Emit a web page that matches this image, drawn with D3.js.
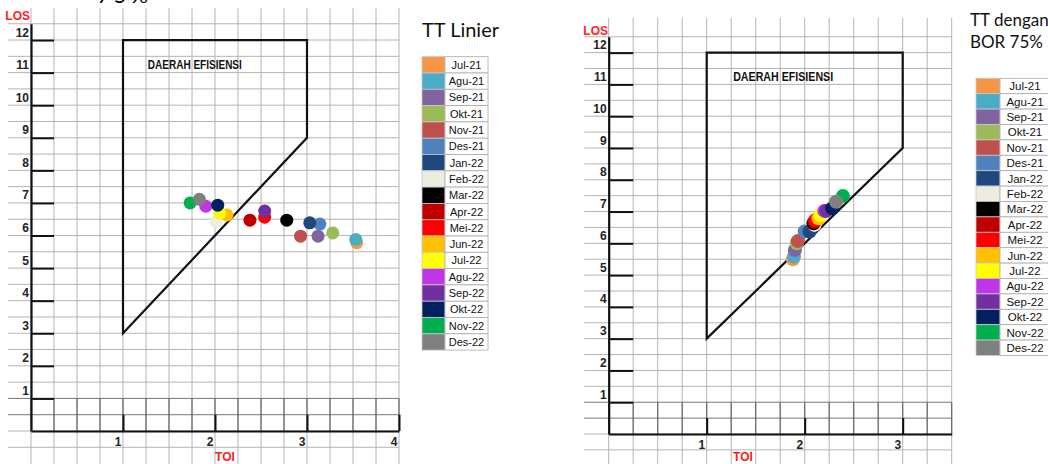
<!DOCTYPE html>
<html>
<head>
<meta charset="utf-8">
<script src="https://cdn.jsdelivr.net/npm/d3@7"></script>
<style>
  body { margin: 0; background: #fff; }
  svg { display: block; }
  .tick text { font-family: "Liberation Sans", Arial, sans-serif; font-weight: bold; font-size: 12px; fill: #222; }
</style>
</head>
<body>
<script>
// Grafik Barber Johnson - data per bulan
var months = ["Jul-21","Agu-21","Sep-21","Okt-21","Nov-21","Des-21","Jan-22","Feb-22","Mar-22",
              "Apr-22","Mei-22","Jun-22","Jul-22","Agu-22","Sep-22","Okt-22","Nov-22","Des-22"];
var monthColors = ["#F79646","#4BACC6","#8064A2","#9BBB59","#C0504D","#4F81BD","#1F497D","#EEECE1","#000000",
                   "#C00000","#FF0000","#FFC000","#FFFF00","#C035E8","#7030A0","#002060","#00B050","#808080"];

// TT Linier
var toiLinier = [3.54,3.53,3.12,3.28,2.93,3.14,3.03,2.01,2.78,2.38,2.54,2.13,2.05,1.90,2.54,2.03,1.73,1.83];
var losLinier = [5.78,5.88,5.98,6.08,5.98,6.35,6.39,6.42,6.47,6.47,6.56,6.63,6.68,6.90,6.75,6.93,7.00,7.11];

// TT dengan BOR 75%
var toiBor = [1.88,1.89,1.90,1.92,1.93,2.00,2.05,2.10,2.09,2.10,2.11,2.14,2.16,2.20,2.22,2.28,2.39,2.32];
var losBor = [5.50,5.58,5.79,6.00,6.07,6.37,6.37,6.58,6.63,6.68,6.73,6.79,6.89,7.02,7.02,7.10,7.49,7.31];

// daerah efisiensi
var areaToi = [1, 1, 3, 3];
var areaLos = [3, 12, 12, 9];

var losTicks = [1,2,3,4,5,6,7,8,9,10,11,12];

var width = 1048, height = 464;
var svg = d3.select("body").append("svg")
  .attr("width", width)
  .attr("height", height);

// sisa judul di atas (terpotong)
svg.append("text")
  .attr("x", 97).attr("y", 3)
  .style("font-family", "Lato, sans-serif")
  .style("font-size", "22px")
  .style("letter-spacing", "4px")
  .text("75%");

drawPanel({
  x0: 31, xUnit: 92, xMax: 4, y0: 431, yUnit: 32.58,
  gridTop: 12.98, toiTicks: [1,2,3,4],
  toi: toiLinier, los: losLinier, r: 6.5,
  effFont: 12, effLen: 94,
  losLabel: [30, 20], toiLabel: [225, 461]
});
drawPanel({
  x0: 608.7, xUnit: 98, xMax: 3.5, y0: 434, yUnit: 31.78,
  gridTop: 13.09, toiTicks: [1,2,3],
  toi: toiBor, los: losBor, r: 7,
  effFont: 12.5, effLen: 100,
  losLabel: [608, 35], toiLabel: [743, 461]
});

drawLegend({ title: ["TT Linier"], titleX: 422, titleY: 37, titleSize: 20,
             sx: 422, sw: 23, lw: 43, top: 56.7, rh: 16.3, font: 11 });
drawLegend({ title: ["TT dengan", "BOR 75%"], titleX: 970, titleY: 26, titleSize: 17,
             sx: 976, sw: 24, lw: 50, top: 78.3, rh: 15.4, font: 11.5 });

function drawPanel(c){
  var x = d3.scaleLinear().domain([0, c.xMax]).range([c.x0, c.x0 + c.xMax * c.xUnit]);
  var y = d3.scaleLinear().domain([0, 12.5]).range([c.y0, c.y0 - 12.5 * c.yUnit]);
  var g = svg.append("g");

  // grid
  var vx = d3.range(0, c.xMax + 0.001, 0.25);
  var hy = d3.range(-0.5, 12.51, 0.5);
  g.selectAll(".vgrid").data(vx).enter().append("line")
    .attr("x1", function(d){ return x(d); }).attr("x2", function(d){ return x(d); })
    .attr("y1", y(c.gridTop)).attr("y2", height)
    .style("stroke", "#b4b4b4").style("stroke-width", 1);
  g.selectAll(".hgrid").data(hy).enter().append("line")
    .attr("x1", x(-0.25)).attr("x2", x(c.xMax))
    .attr("y1", function(d){ return y(d); }).attr("y2", function(d){ return y(d); })
    .style("stroke", function(d){ return (d == 0.5 || d == 1) ? "#777" : "#b4b4b4"; })
    .style("stroke-width", 1);
  // baris bawah lebih gelap
  g.selectAll(".vdark").data(vx).enter().append("line")
    .attr("x1", function(d){ return x(d); }).attr("x2", function(d){ return x(d); })
    .attr("y1", y(1)).attr("y2", y(0))
    .style("stroke", "#666").style("stroke-width", 1.2);

  // sumbu LOS
  var yAxis = d3.axisLeft(y).tickValues(losTicks)
    .tickSizeInner(-0.25 * c.xUnit).tickSizeOuter(0).tickPadding(2)
    .tickFormat(d3.format("d"));
  var ya = g.append("g").attr("transform", "translate(" + c.x0 + ",0)").call(yAxis);
  ya.select(".domain").style("stroke", "#111").style("stroke-width", 2.2);
  ya.selectAll(".tick line").style("stroke", "#111").style("stroke-width", 2);
  ya.selectAll(".tick text").attr("dy", "-0.33em");

  // sumbu TOI
  var xAxis = d3.axisBottom(x).tickValues(c.toiTicks)
    .tickSizeInner(-0.5 * c.yUnit).tickSizeOuter(0).tickPadding(6)
    .tickFormat(d3.format("d"));
  var xa = g.append("g").attr("transform", "translate(0," + c.y0 + ")").call(xAxis);
  xa.select(".domain").style("stroke", "#111").style("stroke-width", 2.2);
  xa.selectAll(".tick line").style("stroke", "#111").style("stroke-width", 2);
  xa.selectAll(".tick text").attr("dx", "-0.45em");

  g.append("text").attr("x", c.losLabel[0]).attr("y", c.losLabel[1])
    .attr("text-anchor", "end")
    .style("font-family", "Liberation Sans, Arial, sans-serif").style("font-weight", "bold")
    .style("font-size", "12px").style("fill", "#FF2020").text("LOS");
  g.append("text").attr("x", c.toiLabel[0]).attr("y", c.toiLabel[1])
    .attr("text-anchor", "middle")
    .style("font-family", "Liberation Sans, Arial, sans-serif").style("font-weight", "bold")
    .style("font-size", "12px").style("fill", "#FF2020").text("TOI");

  // daerah efisiensi
  var line = d3.line()
    .x(function(d){ return x(areaToi[d]); })
    .y(function(d){ return y(areaLos[d]); });
  g.append("path")
    .attr("d", line(d3.range(areaToi.length)) + "Z")
    .style("fill", "none").style("stroke", "#111").style("stroke-width", 2.2);
  g.append("text")
    .attr("x", x(1.27)).attr("y", y(11.23) + c.effFont * 0.35)
    .attr("textLength", c.effLen).attr("lengthAdjust", "spacingAndGlyphs")
    .style("font-family", "Liberation Sans, Arial, sans-serif").style("font-weight", "bold")
    .style("font-size", c.effFont + "px").style("fill", "#111")
    .text("DAERAH EFISIENSI");

  // titik per bulan
  g.selectAll(".pt").data(months).enter().append("circle")
    .attr("class", "pt")
    .attr("cx", function(d, i){ return x(c.toi[i]); })
    .attr("cy", function(d, i){ return y(c.los[i]); })
    .attr("r", c.r)
    .style("fill", function(d, i){ return monthColors[i]; });
}

function drawLegend(l){
  var g = svg.append("g");
  g.selectAll(".ttl").data(l.title).enter().append("text")
    .attr("x", l.titleX)
    .attr("y", function(d, i){ return l.titleY + i * (l.titleSize + 5); })
    .style("font-family", "Lato, sans-serif").style("font-size", l.titleSize + "px")
    .style("fill", "#111")
    .text(function(d){ return d; });
  var row = g.selectAll(".row").data(months).enter().append("g")
    .attr("transform", function(d, i){ return "translate(" + l.sx + "," + (l.top + i * l.rh) + ")"; });
  row.append("rect")
    .attr("width", l.sw).attr("height", l.rh)
    .style("fill", function(d, i){ return monthColors[i]; })
    .style("stroke", "#c8c8c8").style("stroke-width", 0.8);
  row.append("rect")
    .attr("x", l.sw).attr("width", l.lw).attr("height", l.rh)
    .style("fill", "#fff").style("stroke", "#aaa").style("stroke-width", 0.8);
  row.append("text")
    .attr("x", l.sw + l.lw / 2).attr("y", l.rh / 2 + l.font * 0.36)
    .attr("text-anchor", "middle")
    .style("font-family", "Liberation Sans, Arial, sans-serif")
    .style("font-size", l.font + "px").style("fill", "#111")
    .text(function(d){ return d; });
}
</script>
</body>
</html>
